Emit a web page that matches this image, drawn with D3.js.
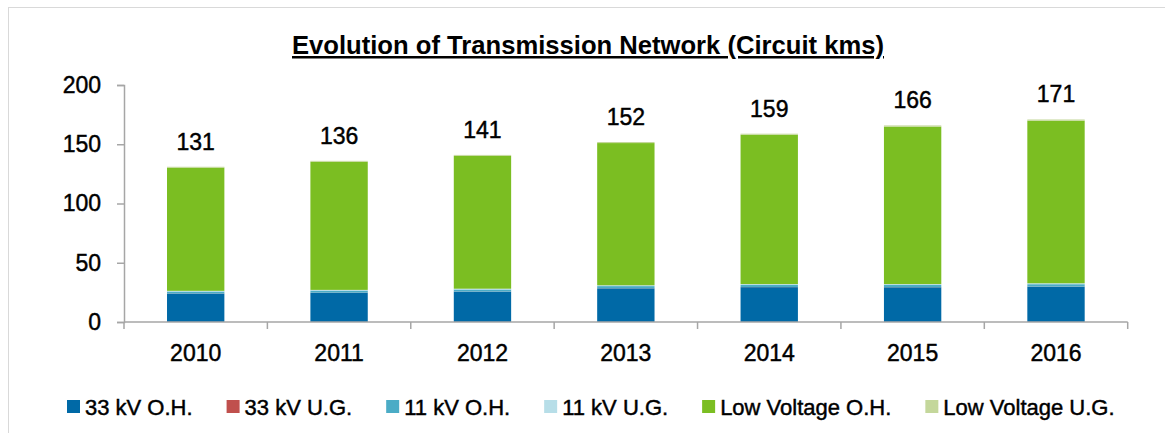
<!DOCTYPE html>
<html>
<head>
<meta charset="utf-8">
<script src="https://cdn.jsdelivr.net/npm/d3@7"></script>
<style>
    body { margin: 0; background: #fff; }
    svg text { font-family: "Liberation Sans", Arial, sans-serif; fill: #000; }
    svg text.med { stroke: #000; stroke-width: 0.45px; }
</style>
</head>
<body>
<svg id="mysvg" xmlns="http://www.w3.org/2000/svg" width="1165" height="433" viewBox="0 0 1165 433"></svg>
<script>
// data
const years = ['2010', '2011', '2012', '2013', '2014', '2015', '2016'];
const seriesNames = ['33 kV O.H.', '33 kV U.G.', '11 kV O.H.', '11 kV U.G.', 'Low Voltage O.H.', 'Low Voltage U.G.'];
const kv33OH = [24.0, 24.7, 25.6, 28.4, 29.4, 29.3, 29.8];
const kv33UG = [0.1, 0.1, 0.1, 0.1, 0.1, 0.1, 0.1];
const kv11OH = [1.6, 1.7, 1.7, 1.8, 1.8, 1.9, 2.0];
const kv11UG = [0.6, 0.6, 0.7, 0.7, 0.7, 0.7, 0.8];
const lvOH = [104.0, 108.1, 112.1, 120.0, 126.0, 132.9, 137.2];
const lvUG = [0.7, 0.8, 0.8, 0.9, 0.9, 1.0, 1.0];
const yTicks = [0, 50, 100, 150, 200];
const colors = ['#0069A6', '#C0504D', '#4BACC6', '#B7DEE8', '#7BBE22', '#C4D79B'];

function drawChart() {

    const
        svg = d3.select('#mysvg'),
        font = '"Liberation Sans", Arial, sans-serif',
        allSeries = [kv33OH, kv33UG, kv11OH, kv11UG, lvOH, lvUG];

    // table for the stack
    const table = years.map((y, i) => {
        const row = { year: y };
        seriesNames.forEach((s, k) => { row[s] = allSeries[k][i]; });
        return row;
    });
    const stacked = d3.stack().keys(seriesNames)(table);

    const x = d3.scaleBand()
        .domain(years)
        .range([124, 1127.7])
        .paddingInner(0.6)
        .paddingOuter(0.3);

    const y = d3.scaleLinear()
        .domain([0, 200])
        .range([322, 85]);

    // outer frame
    svg.append('rect')
        .attr('x', 8.5).attr('y', 7.5)
        .attr('width', 1170).attr('height', 440)
        .attr('fill', 'none')
        .attr('stroke', '#d9d9d9')
        .attr('stroke-width', 1);

    // title
    svg.append('text')
        .attr('x', 588).attr('y', 54)
        .attr('text-anchor', 'middle')
        .attr('font-size', 25)
        .attr('font-weight', 'bold')
        .attr('text-decoration', 'underline')
        .attr('textLength', 592)
        .attr('lengthAdjust', 'spacingAndGlyphs')
        .text('Evolution of Transmission Network (Circuit kms)');

    // bars
    svg.append('g').selectAll('g')
        .data(stacked)
        .join('g')
        .attr('fill', (d, i) => colors[i])
        .selectAll('rect')
        .data(d => d)
        .join('rect')
        .attr('x', d => x(d.data.year))
        .attr('y', d => y(d[1]))
        .attr('width', x.bandwidth())
        .attr('height', d => y(d[0]) - y(d[1]));

    // totals above bars
    svg.append('g').selectAll('text')
        .data(table)
        .join('text')
        .attr('class', 'med')
        .attr('x', d => x(d.year) + x.bandwidth() / 2)
        .attr('y', d => y(d3.sum(seriesNames, s => d[s])) - 17)
        .attr('text-anchor', 'middle')
        .attr('font-size', 23)
        .text(d => Math.round(d3.sum(seriesNames, s => d[s])));

    // y axis
    const yAxis = svg.append('g')
        .attr('transform', 'translate(124,0)')
        .call(d3.axisLeft(y).tickValues(yTicks).tickSize(7).tickPadding(16));
    yAxis.selectAll('path, line').attr('stroke', '#a6a6a6').attr('stroke-width', 1.5);
    yAxis.selectAll('text')
        .attr('class', 'med')
        .attr('font-size', 23).attr('font-family', font).attr('fill', '#000');

    // x axis, ticks between categories
    const xAxis = svg.append('g').attr('transform', 'translate(0,322)');
    xAxis.append('line')
        .attr('x1', 124).attr('x2', 1127.7)
        .attr('stroke', '#a6a6a6').attr('stroke-width', 1.5);
    const step = x.step();
    xAxis.selectAll('line.tick')
        .data(d3.range(years.length + 1))
        .join('line')
        .attr('class', 'tick')
        .attr('x1', i => 124 + i * step).attr('x2', i => 124 + i * step)
        .attr('y1', 0).attr('y2', 7)
        .attr('stroke', '#a6a6a6').attr('stroke-width', 1.5);
    xAxis.selectAll('text')
        .data(years)
        .join('text')
        .attr('class', 'med')
        .attr('x', d => x(d) + x.bandwidth() / 2)
        .attr('y', 39)
        .attr('text-anchor', 'middle')
        .attr('font-size', 23)
        .text(d => d);

    // legend
    const legend = svg.append('g').attr('transform', 'translate(67,400)');
    let lx = 0;
    seriesNames.forEach((s, i) => {
        const item = legend.append('g').attr('transform', `translate(${lx},0)`);
        item.append('rect')
            .attr('width', 13).attr('height', 13)
            .attr('fill', colors[i]);
        const t = item.append('text')
            .attr('class', 'med')
            .attr('x', 18).attr('y', 14.5)
            .attr('font-size', 22)
            .text(s);
        lx += 18 + t.node().getComputedTextLength() + 34;
    });
}

drawChart();
</script>
</body>
</html>
